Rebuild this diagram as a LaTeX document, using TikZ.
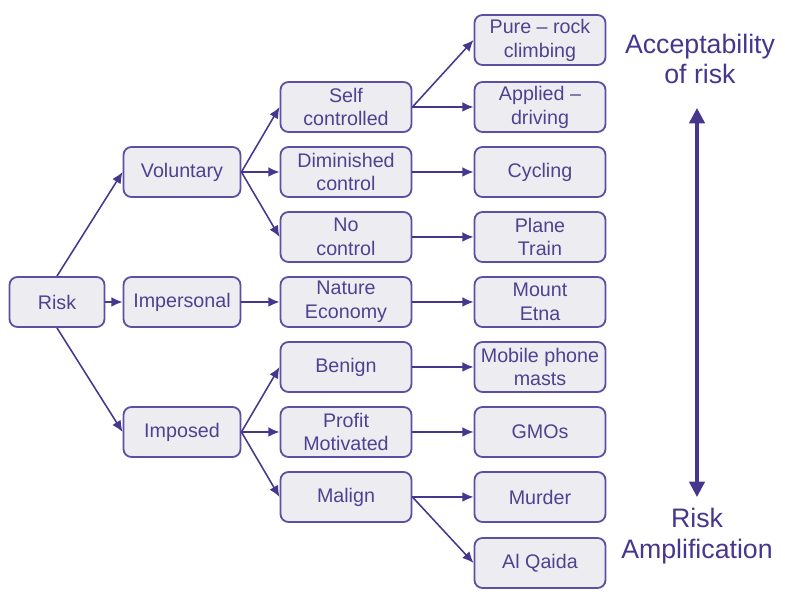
\documentclass[tikz,border=0pt]{standalone}
\usepackage{fontspec}
\setmainfont{Liberation Sans}
\usetikzlibrary{arrows.meta}
\definecolor{boxline}{HTML}{5E4FA2}
\definecolor{boxfill}{HTML}{EDEDF1}
\definecolor{linkcol}{HTML}{46368E}
\definecolor{labelcol}{HTML}{4E4290}
\begin{document}
\begin{tikzpicture}[
			x=0.025cm, y=-0.025cm,
			box/.style={draw=boxline, fill=boxfill, line width=1.3pt, rounded corners=0.2cm,
					minimum height=1.25cm, minimum width=3.275cm, inner sep=1pt, align=center,
					text=labelcol, font=\fontsize{14}{17}\selectfont},
			midbox/.style={box, minimum width=2.925cm},
			link/.style={draw=linkcol, line width=1.1pt, -{Latex[length=8pt,width=7pt]}},
			side/.style={text=linkcol, align=center, font=\fontsize{19}{21.5}\selectfont}
		]
		\useasboundingbox (0,0) rectangle (785,596);
		% root and first level
		\node[box, minimum width=2.375cm] (risk) at (57,302) {Risk};
		\node[midbox] (volun) at (182,172) {Voluntary};
		\node[midbox] (impers) at (182,302) {Impersonal};
		\node[midbox] (impos) at (182,432) {Imposed};
		% second level
		\node[box] (self) at (346,107) {Self\\controlled};
		\node[box] (dimin) at (346,172) {Diminished\\control};
		\node[box] (nocon) at (346,237) {No\\control};
		\node[box] (nature) at (346,302) {Nature\\Economy};
		\node[box] (benign) at (346,367) {Benign};
		\node[box] (profit) at (346,432) {Profit\\Motivated};
		\node[box] (malign) at (346,497) {Malign};
		% examples
		\node[box] (pure) at (540,40) {Pure -- rock\\climbing};
		\node[box] (applied) at (540,107) {Applied --\\driving};
		\node[box] (cycling) at (540,172) {Cycling};
		\node[box] (plane) at (540,237) {Plane\\Train};
		\node[box] (etna) at (540,302) {Mount\\Etna};
		\node[box] (mobile) at (540,367) {Mobile phone\\masts};
		\node[box] (gmo) at (540,432) {GMOs};
		\node[box] (murder) at (540,497) {Murder};
		\node[box] (qaida) at (540,563) {Al Qaida};

		\draw[link] (risk.north) -- (volun.west);
		\draw[link] (risk) -- (impers);
		\draw[link] (risk.south) -- (impos.west);
		\draw[link] (volun.east) -- (self.west);
		\draw[link] (volun.east) -- (dimin.west);
		\draw[link] (volun.east) -- (nocon.west);
		\draw[link] (impers) -- (nature);
		\draw[link] (impos.east) -- (benign.west);
		\draw[link] (impos.east) -- (profit.west);
		\draw[link] (impos.east) -- (malign.west);
		\draw[link] (self.east) -- (pure.west);
		\draw[link] (self.east) -- (applied.west);
		\draw[link] (dimin) -- (cycling);
		\draw[link] (nocon) -- (plane);
		\draw[link] (nature) -- (etna);
		\draw[link] (benign) -- (mobile);
		\draw[link] (profit) -- (gmo);
		\draw[link] (malign.east) -- (murder.west);
		\draw[link] (malign.east) -- (qaida.west);

		% scale on the right
		\node[side] (accept) at (700,59) {Acceptability\\of risk};
		\node[side] (amplif) at (697,536) {Risk\\Amplification};
		\coordinate (scaletop) at (697,108);
		\coordinate (scalebot) at (697,497);
		\draw[draw=linkcol, line width=2.4pt, {Triangle[length=11pt,width=11pt]}-{Triangle[length=11pt,width=11pt]}] (scaletop) -- (scalebot);
	\end{tikzpicture}
\end{document}
